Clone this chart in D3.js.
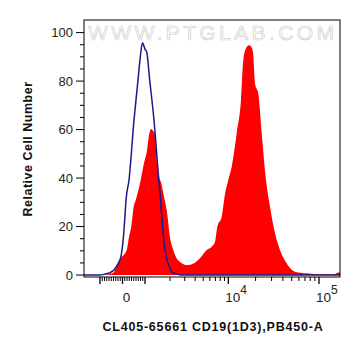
<!DOCTYPE html>
<html><head><meta charset="utf-8">
<script src="https://cdn.jsdelivr.net/npm/d3@7"></script>
<style>body{margin:0;background:#fff}</style></head>
<body><svg id="c" width="361" height="356"></svg>
<script>
// ---- data (fluorescence value, % of max) ----
const redX = [-5100,-778,-524,-378,-244,-67,187,289,378,511,587,809,956,1057,1117,1180,1230,1318,1382,1473,1569,1690,1822,1888,1941,2187,2422,2630,3193,3875,4572,5504,6319,6924,7379,8337,9124,10000,10900,12380,13800,14640,15670,16910,18030,18720,19700,21420,23350,26040,28830,32730,37150,44040,54400,73170,102600,146400,157900,170000];
const redY = [0,0,0.6,1.2,4.1,7.0,10.3,15.7,19.4,28.9,30.9,39.2,46.2,51.5,57.7,60.2,59.8,57.7,47.4,40.6,37.9,32.3,26.8,22.7,18.6,10.3,6.6,5.4,4.1,4.9,6.9,10.3,11.7,13.7,19.9,24.0,33.3,39.2,44.7,58.4,72.2,88.7,93.6,94.8,94.0,91.8,78.9,74.8,58.4,39.2,28.2,17.2,10.3,4.8,1.4,0.7,0.3,0.3,1.0,1.2];
const blueX = [-5100,-1000,-778,-556,-378,-289,-156,-60,30,98,156,289,511,689,800,889,956,1000,1048,1139,1282,1433,1535,1622,1738,1837,1995,2109,2356,2705,170000];
const blueY = [0,0,0.4,1.0,2.1,3.3,5.4,8.0,14.5,22.7,30.9,39.2,63.9,80.4,90.7,95.8,94.4,93.2,92.1,80.4,63.9,43.3,30.9,20.6,10.3,6.2,2.9,1.2,0.6,0,0];
const yTicks = [0,20,40,60,80,100];
const xMajor = [-1000,0,1000,10000,100000];
const xLabels = [{v:0,b:"0",e:""},{v:10000,b:"10",e:"4"},{v:100000,b:"10",e:"5"}];
const xTitle = "CL405-65661 CD19(1D3),PB450-A";
const yTitle = "Relative Cell Number";
const watermark = "WWW.PTGLAB.COM";

// ---- layout ----
const L=84,R=340,T=20,B=277;
const svg = d3.select("#c");
const FONT = "'Liberation Sans', Arial, sans-serif";

// biexponential-like display transform
function tf(v){const a=Math.abs(v);return a<=1000?v/1000:Math.sign(v)*(1+Math.log10(a/1000));}
const lin = d3.scaleLinear().domain([tf(-5100),-1,0,1,2,3,tf(170000)]).range([L,100,122.5,145,228.3,319,R]);
const x = v => lin(tf(v));
const y = d3.scaleLinear().domain([-0.8,105.2]).range([B,T]);

svg.append("clipPath").attr("id","clip").append("rect").attr("x",L).attr("y",T).attr("width",R-L).attr("height",B-T);

const red = redX.map((v,i)=>[v,redY[i]]);
const blue = blueX.map((v,i)=>[v,blueY[i]]);

svg.append("path").datum(red).attr("clip-path","url(#clip)")
  .attr("fill","#ff0000")
  .attr("d",d3.area().curve(d3.curveMonotoneX).x(d=>x(d[0])).y0(y(0)).y1(d=>y(d[1])));
svg.append("path").datum(blue).attr("clip-path","url(#clip)")
  .attr("fill","none").attr("stroke","#1a1a8e").attr("stroke-width",1.5)
  .attr("d",d3.line().curve(d3.curveMonotoneX).x(d=>x(d[0])).y(d=>y(d[1])));

// watermark
svg.append("text").attr("x",88).attr("y",40).attr("textLength",246).attr("lengthAdjust","spacing")
  .attr("font-family",FONT).attr("font-size",21).attr("fill","#fff").attr("stroke","#cfcfcf").attr("stroke-width",0.7)
  .text(watermark);

// frame
svg.append("rect").attr("x",L).attr("y",T).attr("width",R-L).attr("height",B-T)
  .attr("fill","none").attr("stroke","#000").attr("stroke-width",1);

// y axis
const gy = svg.append("g");
d3.range(0,101,5).forEach(v=>{
  const major = v%20===0;
  gy.append("line").attr("x1",L-(major?8:4)).attr("x2",L).attr("y1",y(v)).attr("y2",y(v)).attr("stroke","#000");
});
yTicks.forEach(v=>{
  gy.append("text").attr("x",73).attr("y",y(v)).attr("dy","0.36em").attr("text-anchor","end")
    .attr("font-family",FONT).attr("font-size",13).attr("fill","#222").text(v);
});

// x axis
const gx = svg.append("g");
const minors = [];
for(let k=1;k<=9;k++){minors.push(-k*100);minors.push(k*100);}
for(let k=2;k<=9;k++){minors.push(k*1000);minors.push(k*10000);}
minors.forEach(v=>gx.append("line").attr("x1",x(v)).attr("x2",x(v)).attr("y1",B).attr("y2",B+4).attr("stroke","#000"));
xMajor.forEach(v=>gx.append("line").attr("x1",x(v)).attr("x2",x(v)).attr("y1",B).attr("y2",B+7).attr("stroke","#000").attr("stroke-width",1.3));
xLabels.forEach(l=>{
  const t = gx.append("text").attr("y",301.5).attr("font-family",FONT).attr("font-size",13.5).attr("fill","#222");
  if(l.e===""){ t.attr("x",x(l.v)+4).attr("text-anchor","middle").text(l.b); }
  else {
    t.attr("x",x(l.v)-3).attr("text-anchor","start");
    t.append("tspan").text(l.b);
    t.append("tspan").attr("dy",-8).attr("font-size",12).text(l.e);
  }
});

// titles
svg.append("text").attr("x",213).attr("y",331).attr("text-anchor","middle").attr("letter-spacing",0.8)
  .attr("font-family",FONT).attr("font-weight","bold").attr("font-size",12.5).attr("fill","#111").text(xTitle);
svg.append("text").attr("transform","translate(31.5,149) rotate(-90)").attr("text-anchor","middle").attr("letter-spacing",0.5)
  .attr("font-family",FONT).attr("font-weight","bold").attr("font-size",12.5).attr("fill","#111").text(yTitle);
</script></body></html>
